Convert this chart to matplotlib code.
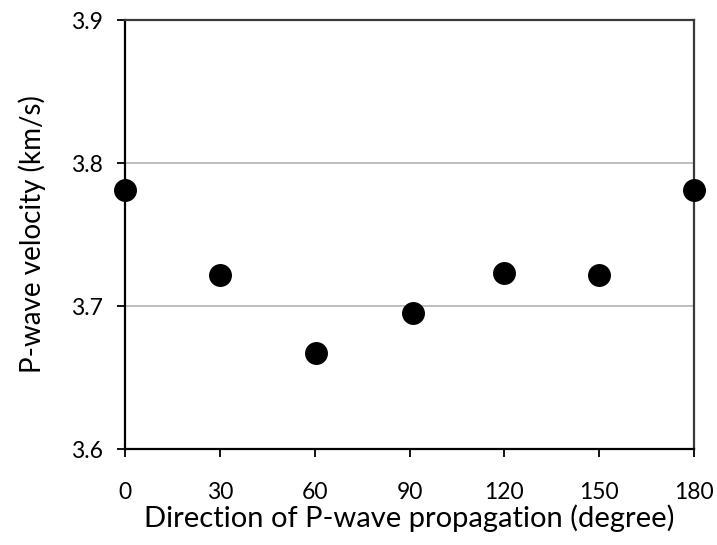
import matplotlib
matplotlib.use("Agg")
import matplotlib.pyplot as plt

# direction of propagation (degree) and P-wave velocity (km/s)
direction = [0, 30, 60.5, 91, 120, 150, 180]
velocity = [3.781, 3.7215, 3.6668, 3.695, 3.723, 3.7215, 3.781]

xticks = [0, 30, 60, 90, 120, 150, 180]
yticks = [3.6, 3.7, 3.8, 3.9]

plt.rcParams['font.family'] = ['Lato', 'DejaVu Sans']

fig = plt.figure(figsize=(7.17, 5.45), dpi=100)
ax = fig.add_axes([0.1743, 0.1761, 0.7937, 0.7872])

ax.set_xlim(0, 180)
ax.set_ylim(3.6, 3.9)
ax.set_xticks(xticks)
ax.set_yticks(yticks)
ax.set_yticklabels([f"{v:.1f}" for v in yticks])

for v in [3.7, 3.8]:
    ax.axhline(v, color='#b4b4b4', lw=1.2, zorder=1)

ax.plot(direction, velocity, 'o', color='black', markersize=15.5,
        clip_on=False, zorder=3)

for s in ['top', 'right']:
    ax.spines[s].set_color('#3a3a3a')
    ax.spines[s].set_linewidth(1.6)
for s in ['left', 'bottom']:
    ax.spines[s].set_color('black')
    ax.spines[s].set_linewidth(1.6)

ax.tick_params(axis='both', direction='out', length=6, width=1.3,
               labelsize=16.5, colors='black')
ax.tick_params(axis='x', pad=18)
ax.tick_params(axis='y', pad=10)

ax.set_xlabel("Direction of P-wave propagation (degree)", fontsize=21, labelpad=1)
ax.set_ylabel("P-wave velocity (km/s)", fontsize=20, labelpad=18)

fig.savefig("out.png", dpi=100)
